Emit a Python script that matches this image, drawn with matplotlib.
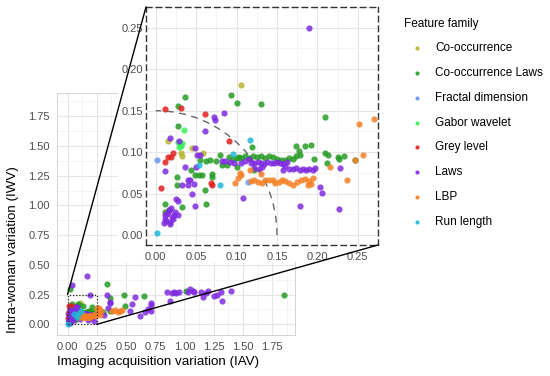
import matplotlib
matplotlib.use('Agg')
import matplotlib.pyplot as plt
import numpy as np
from matplotlib.patches import Rectangle, Arc, ConnectionPatch

plt.rcParams['font.family'] = ['Liberation Sans', 'DejaVu Sans']

# ---------------- data ----------------
families = ["Co-occurrence", "Co-occurrence Laws", "Fractal dimension", "Gabor wavelet",
            "Grey level", "Laws", "LBP", "Run length"]
colors = ["#B8B32E", "#259B24", "#6A95F0", "#3DF05A", "#E0201E", "#7F2BE0", "#F58025", "#1FB8D8"]

cooc_iav = [0.105, 0.015, 0.045, 0.031, 0.032, 0.059]
cooc_iwv = [0.181, 0.113, 0.105, 0.099, 0.095, 0.099]

cooclaws_iav = [0.027, 0.101, 0.036, 0.093, 0.130, 0.209, 0.028, 0.119, 0.062, 0.055, 0.067, 0.080, 0.075,
                0.044, 0.049, 0.053, 0.057, 0.026, 0.069, 0.070, 0.026, 0.061, 0.012, 0.032, 0.062, 0.016,
                0.011, 0.100, 0.103, 0.106, 0.090, 0.095, 0.110, 0.115, 0.120, 0.125, 0.130, 0.135, 0.140,
                0.145, 0.150, 0.155, 0.160, 0.165, 0.170, 0.174, 0.185, 0.192, 0.177, 0.178, 0.173, 0.196,
                0.209, 0.213, 0.225, 0.227, 0.212, 0.233, 0.246, 0.088, 0.082, 0.122, 0.101,
                0.02, 0.34, 0.36, 0.48, 0.65, 0.49, 0.36, 1.01, 1.85, 0.30]
cooclaws_iwv = [0.156, 0.159, 0.167, 0.169, 0.158, 0.142, 0.132, 0.106, 0.089, 0.091, 0.090, 0.097, 0.089,
                0.079, 0.073, 0.073, 0.073, 0.070, 0.074, 0.070, 0.061, 0.055, 0.038, 0.034, 0.038, 0.030,
                0.028, 0.093, 0.094, 0.093, 0.094, 0.092, 0.095, 0.093, 0.095, 0.094, 0.095, 0.093, 0.095,
                0.094, 0.092, 0.090, 0.091, 0.093, 0.092, 0.108, 0.107, 0.109, 0.102, 0.097, 0.095, 0.092,
                0.099, 0.097, 0.094, 0.092, 0.087, 0.095, 0.090, 0.085, 0.084, 0.078, 0.082,
                0.30, 0.34, 0.22, 0.25, 0.24, 0.15, 0.11, 0.28, 0.25, 0.10]

fractal_iav = [0.001, 0.114]
fractal_iwv = [0.091, 0.064]

gabor_iav = [0.035, 0.028, 0.030, 0.031, 0.029, 0.032]
gabor_iwv = [0.127, 0.112, 0.110, 0.108, 0.106, 0.111]

grey_iav = [0.012, 0.031, 0.061, 0.091, 0.021, 0.019, 0.015, 0.011, 0.007, 0.069, 0.068]
grey_iwv = [0.152, 0.153, 0.146, 0.114, 0.099, 0.094, 0.094, 0.088, 0.057, 0.060, 0.063]

laws_iav = [0.190, 0.072, 0.073, 0.084, 0.061, 0.018, 0.029, 0.048, 0.051, 0.055, 0.050, 0.036, 0.012,
            0.040, 0.042, 0.032, 0.040, 0.047, 0.045, 0.025, 0.028, 0.048, 0.108, 0.228, 0.203, 0.206,
            0.179, 0.227,
            0.010, 0.012, 0.014, 0.016, 0.013, 0.018, 0.020, 0.015, 0.011, 0.021, 0.017, 0.022, 0.028,
            0.019, 0.024,
            0.082, 0.086, 0.092, 0.097, 0.105, 0.110, 0.115, 0.118, 0.122, 0.126, 0.130, 0.134, 0.138,
            0.142, 0.146, 0.150, 0.154, 0.158, 0.162, 0.122, 0.128, 0.132, 0.157, 0.160, 0.165, 0.170,
            0.174, 0.178, 0.182, 0.186, 0.190, 0.194, 0.197,
            0.17, 0.04, 0.34, 0.36, 0.36, 0.35, 0.58, 0.71, 0.71, 0.55, 0.53, 0.62, 0.66, 0.69, 0.71,
            0.85, 0.89, 0.91, 0.93, 0.95, 0.88, 1.03, 1.05, 1.07, 1.08, 1.14, 1.18, 1.20, 1.16, 1.25,
            1.28, 1.31, 1.32, 1.40, 0.31]
laws_iwv = [0.250, 0.143, 0.139, 0.147, 0.126, 0.117, 0.114, 0.105, 0.096, 0.096, 0.082, 0.082, 0.077,
            0.067, 0.066, 0.060, 0.060, 0.062, 0.049, 0.043, 0.041, 0.035, 0.045, 0.081, 0.058, 0.051,
            0.035, 0.031,
            0.015, 0.020, 0.025, 0.030, 0.017, 0.016, 0.022, 0.028, 0.024, 0.019, 0.014, 0.024, 0.024,
            0.033, 0.028,
            0.089, 0.089, 0.088, 0.087, 0.087, 0.089, 0.092, 0.087, 0.087, 0.088, 0.087, 0.086, 0.088,
            0.087, 0.087, 0.088, 0.087, 0.086, 0.088, 0.081, 0.080, 0.082, 0.078, 0.083, 0.080, 0.080,
            0.081, 0.079, 0.080, 0.079, 0.080, 0.079, 0.081,
            0.41, 0.33, 0.25, 0.19, 0.18, 0.14, 0.23, 0.18, 0.16, 0.17, 0.11, 0.07, 0.10, 0.13, 0.11,
            0.27, 0.26, 0.27, 0.26, 0.27, 0.20, 0.27, 0.30, 0.28, 0.27, 0.27, 0.26, 0.28, 0.23, 0.24,
            0.25, 0.27, 0.20, 0.28, 0.08]

lbp_iav = [0.252, 0.256, 0.215, 0.237, 0.098, 0.102, 0.106, 0.104, 0.116, 0.130, 0.118, 0.122, 0.126,
           0.131, 0.135, 0.140, 0.145, 0.148, 0.152, 0.156, 0.160, 0.165, 0.170, 0.175, 0.180, 0.185,
           0.190, 0.195, 0.192, 0.188, 0.246,
           0.38, 0.41, 0.43, 0.45, 0.47, 0.29, 0.28, 0.27]
lbp_iwv = [0.134, 0.096, 0.082, 0.066, 0.063, 0.069, 0.073, 0.075, 0.079, 0.074, 0.065, 0.067, 0.064,
           0.063, 0.066, 0.067, 0.066, 0.063, 0.064, 0.067, 0.065, 0.063, 0.061, 0.064, 0.066, 0.068,
           0.065, 0.069, 0.062, 0.060, 0.090,
           0.11, 0.12, 0.10, 0.11, 0.12, 0.11, 0.08, 0.14]

run_iav = [0.001, 0.053, 0.080, 0.095, 0.116]
run_iwv = [0.002, 0.085, 0.061, 0.098, 0.115]

series = [(cooc_iav, cooc_iwv), (cooclaws_iav, cooclaws_iwv), (fractal_iav, fractal_iwv),
          (gabor_iav, gabor_iwv), (grey_iav, grey_iwv), (laws_iav, laws_iwv),
          (lbp_iav, lbp_iwv), (run_iav, run_iwv)]

main_ticks = [0.00, 0.25, 0.50, 0.75, 1.00, 1.25, 1.50, 1.75]
inset_ticks = [0.00, 0.05, 0.10, 0.15, 0.20, 0.25]
zoom_box = 0.25
circle_r = 0.15

# ---------------- figure ----------------
W, H = 550, 376
fig = plt.figure(figsize=(W / 100, H / 100), dpi=100)
fig.patch.set_facecolor('white')

def frac(x0, y0, x1, y1):
    return [x0 / W, 1 - y1 / H, (x1 - x0) / W, (y1 - y0) / H]

tick_col = '#4D4D4D'

# main axes
ax = fig.add_axes(frac(57, 93, 295, 335), zorder=0)
ax.set_xlim(-0.09, 1.945)
ax.set_ylim(-0.09, 1.945)
ax.set_xticks(main_ticks)
ax.set_yticks(main_ticks)
ax.set_xticklabels([f"{t:.2f}" for t in main_ticks])
ax.set_yticklabels([f"{t:.2f}" for t in main_ticks])
minor = [t + 0.125 for t in main_ticks]
ax.set_xticks(minor, minor=True)
ax.set_yticks(minor, minor=True)
ax.grid(which='major', color='#E6E6E6', lw=0.8)
ax.grid(which='minor', color='#F2F2F2', lw=0.6)
ax.set_axisbelow(True)
for s in ax.spines.values():
    s.set_color('#D4D4D4')
    s.set_linewidth(0.7)
ax.tick_params(which='both', length=0, labelsize=8, labelcolor=tick_col, pad=5)

for (xs, ys), c in zip(series, colors):
    ax.scatter(xs, ys, s=20, color=c, alpha=0.85, linewidths=0, zorder=3)

ax.add_patch(Rectangle((0, 0), zoom_box, zoom_box, fill=False, ec='#222222', lw=0.9,
                       ls=(0, (1, 1.5)), zorder=4))

# white background behind inset and its labels
fig.add_artist(Rectangle((118 / W, 1 - 262 / H), (381 - 118) / W, 262 / H,
                         transform=fig.transFigure, fc='white', ec='none', zorder=3))

# inset axes
axi = fig.add_axes(frac(146, 7, 378, 245), zorder=5)
axi.set_facecolor('white')
axi.set_xlim(-0.0121, 0.2694)
axi.set_ylim(-0.0119, 0.2714)
axi.set_xticks(inset_ticks)
axi.set_yticks(inset_ticks)
axi.set_xticklabels([f"{t:.2f}" for t in inset_ticks])
axi.set_yticklabels([f"{t:.2f}" for t in inset_ticks])
iminor = [t + 0.025 for t in inset_ticks]
axi.set_xticks(iminor, minor=True)
axi.set_yticks(iminor, minor=True)
axi.grid(which='major', color='#E6E6E6', lw=0.8)
axi.grid(which='minor', color='#F2F2F2', lw=0.6)
axi.set_axisbelow(True)
for s in axi.spines.values():
    s.set_color('#333333')
    s.set_linewidth(1.0)
    s.set_linestyle((0, (4, 3)))
axi.tick_params(which='both', length=0, labelsize=8, labelcolor=tick_col)
axi.tick_params(axis='x', pad=5)
axi.tick_params(axis='y', pad=2)

for (xs, ys), c in zip(series, colors):
    axi.scatter(xs, ys, s=20, color=c, alpha=0.85, linewidths=0, zorder=3)

axi.add_patch(Arc((0, 0), 2 * circle_r, 2 * circle_r, theta1=0, theta2=90, color='#666666',
                  lw=1.0, ls=(0, (5, 4)), zorder=2))

# connector lines
for pa, pb in [((0, zoom_box), (0, 1)), ((zoom_box, 0), (1, 0))]:
    con = ConnectionPatch(xyA=pa, coordsA=ax.transData, xyB=pb, coordsB=axi.transAxes,
                          color='black', lw=1.0, zorder=6)
    fig.add_artist(con)

# axis titles
fig.text(158 / W, 1 - 361.5 / H, "Imaging acquisition variation (IAV)", ha='center', va='center',
         fontsize=9.6, color='black')
fig.text(13.5 / W, 1 - 250 / H, "Intra-woman variation (IWV)", ha='center', va='center',
         rotation=90, fontsize=9.6, color='black')

# legend
lax = fig.add_axes([0, 0, 1, 1], zorder=7)
lax.set_xlim(0, W)
lax.set_ylim(H, 0)
lax.axis('off')
lax.text(404, 24, "Feature family", ha='left', va='center', fontsize=8.5, color='black')
y0, dy = 48.3, 24.77
for i, (name, c) in enumerate(zip(families, colors)):
    yy = y0 + i * dy
    lax.scatter([416.7], [yy], s=9, color=c, alpha=0.9, linewidths=0)
    lax.text(435, yy, name, ha='left', va='center', fontsize=8.5, color='black')

fig.savefig('out.png', dpi=100)
